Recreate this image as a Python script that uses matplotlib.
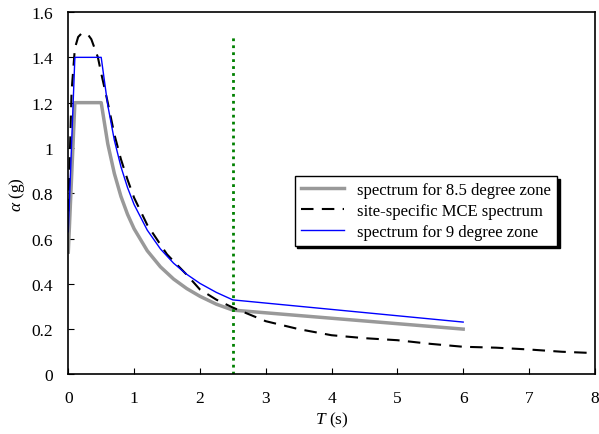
import matplotlib
matplotlib.use("Agg")
import matplotlib.pyplot as plt
from matplotlib.ticker import FormatStrFormatter

plt.rcParams["font.family"] = "Liberation Serif"
plt.rcParams["mathtext.fontset"] = "custom"
plt.rcParams["mathtext.rm"] = "Liberation Serif"
plt.rcParams["mathtext.it"] = "Liberation Serif:italic"

# spectrum for 9 degree zone
t_9 = [0, 0.1, 0.5, 0.6, 0.7, 0.8, 0.9, 1.0, 1.2, 1.4, 1.6, 1.8, 2.0, 2.25, 2.5, 6.0]
a_9 = [0.63, 1.40, 1.40, 1.188, 1.034, 0.917, 0.825, 0.750, 0.637, 0.554, 0.491,
       0.442, 0.402, 0.362, 0.329, 0.231]

# spectrum for 8.5 degree zone
t_85 = [0, 0.1, 0.5, 0.6, 0.7, 0.8, 0.9, 1.0, 1.2, 1.4, 1.6, 1.8, 2.0, 2.25, 2.5, 6.0]
a_85 = [0.54, 1.20, 1.20, 1.018, 0.887, 0.786, 0.707, 0.643, 0.546, 0.475, 0.421,
        0.379, 0.345, 0.310, 0.284, 0.200]

# site-specific MCE spectrum
t_mce = [0, 0.05, 0.1, 0.15, 0.2, 0.25, 0.3, 0.35, 0.4, 0.45, 0.5, 0.6, 0.7, 0.8,
         0.9, 1.0, 1.2, 1.5, 1.8, 2.0, 2.25, 2.5, 3.0, 3.5, 4.0, 4.5, 5.0, 5.5,
         6.0, 6.5, 7.0, 7.5, 8.0]
a_mce = [0.72, 1.25, 1.44, 1.49, 1.505, 1.505, 1.50, 1.48, 1.44, 1.40, 1.33, 1.20,
         1.06, 0.95, 0.86, 0.78, 0.66, 0.53, 0.44, 0.375, 0.33, 0.295, 0.235, 0.20,
         0.173, 0.16, 0.151, 0.135, 0.122, 0.118, 0.110, 0.100, 0.094]

t_mark = 2.5
mark_top = 1.5

fig = plt.figure(figsize=(5.99, 4.35), dpi=100)
ax = fig.add_axes([0.114, 0.137, 0.879, 0.833])

ax.plot(t_85, a_85, color="#999999", lw=2.5, label="spectrum for 8.5 degree zone")
ax.plot(t_mce, a_mce, color="black", lw=1.5, linestyle=(0, (6, 4)),
        label="site-specific MCE spectrum")
ax.plot(t_9, a_9, color="#0000ff", lw=1.0, label="spectrum for 9 degree zone")
ax.plot([t_mark, t_mark], [0, mark_top], color="#008000", lw=2, linestyle=(0, (1, 1.5)))

ax.set_xlim(0, 8)
ax.set_ylim(0, 1.6)
ax.set_xticks(range(0, 9))
ax.set_yticks([0, 0.2, 0.4, 0.6, 0.8, 1.0, 1.2, 1.4, 1.6])
ax.yaxis.set_major_formatter(FormatStrFormatter("%g"))
ax.tick_params(direction="in", labelsize=12.5, length=4, pad=11)
for s in ax.spines.values():
    s.set_linewidth(1.2)

ax.set_xlabel(r"$T$ (s)", fontsize=12.5, labelpad=3)
ax.set_ylabel(r"$\alpha$ (g)", fontsize=12.5, labelpad=3)

leg = ax.legend(loc="upper left", bbox_to_anchor=(0.43, 0.548), fontsize=12,
                fancybox=False, edgecolor="black", framealpha=1,
                shadow={"color": "black", "alpha": 1}, handlelength=2.6,
                borderpad=0.35, labelspacing=0.3, borderaxespad=0)
leg.get_frame().set_linewidth(1.0)

fig.savefig("out.png", dpi=100)
